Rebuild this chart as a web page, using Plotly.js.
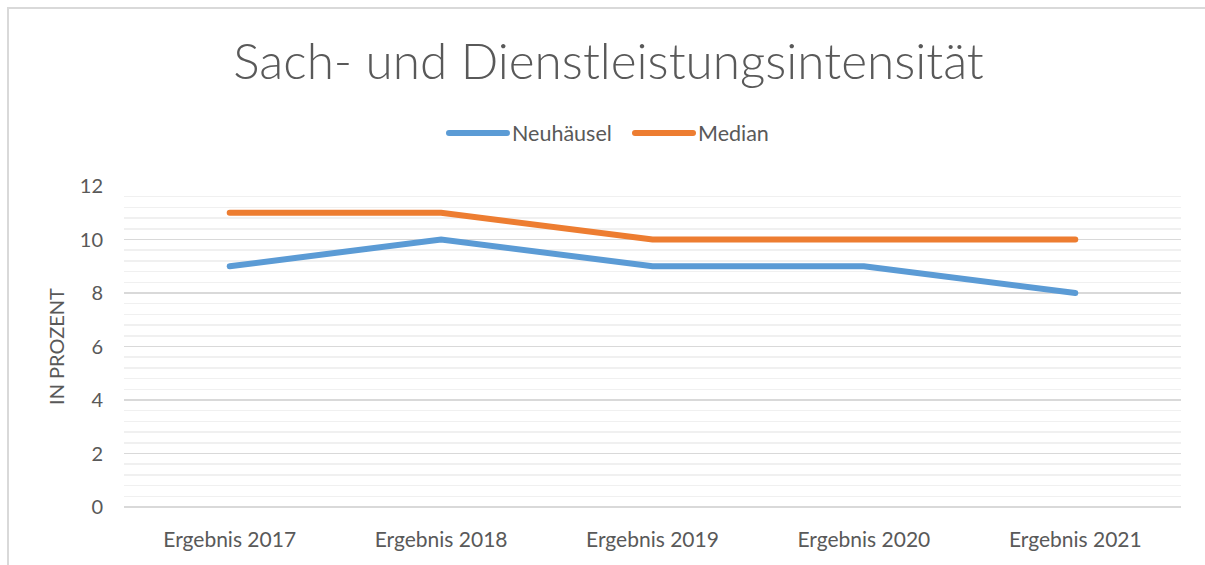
<!DOCTYPE html>
<html>
<head>
<meta charset="utf-8">
<script src="https://cdn.plot.ly/plotly-3.0.1.min.js"></script>
<style>
  html, body { margin: 0; padding: 0; background: #fff; }
  #frame { position: absolute; left: 7px; top: 7px; width: 1300px; height: 700px; border-left: 2px solid #d9d9d9; border-top: 2px solid #d9d9d9; box-sizing: border-box; pointer-events: none; z-index: 5; }
  #chart { position: absolute; left: 0; top: 0; width: 1205px; height: 565px; }
  #chart path.js-line, #chart .legendlines path { stroke-linecap: round; }
</style>
</head>
<body>
<div id="chart"></div>
<div id="frame"></div>
<script>
const categories = ["Ergebnis 2017", "Ergebnis 2018", "Ergebnis 2019", "Ergebnis 2020", "Ergebnis 2021"];
const neuhaeusel = [9, 10, 9, 9, 8];
const median = [11, 11, 10, 10, 10];
const yTickVals = [0, 2, 4, 6, 8, 10, 12];

const font = "Lato, 'Open Sans', 'Liberation Sans', sans-serif";

const traces = [
  { x: categories, y: neuhaeusel, name: "Neuhäusel", type: "scatter", mode: "lines",
    line: { color: "#5B9BD5", width: 6 } },
  { x: categories, y: median, name: "Median", type: "scatter", mode: "lines",
    line: { color: "#ED7D31", width: 6 } }
];

const layout = {
  width: 1205, height: 565,
  margin: { l: 124, r: 24, t: 186, b: 58 },
  paper_bgcolor: "#fff", plot_bgcolor: "#fff",
  font: { family: font, color: "#595959", size: 18 },
  title: { text: "Sach- und Dienstleistungsintensität", x: 0.505, xanchor: "center", y: 0.89, yanchor: "middle",
           font: { family: font, size: 49.5, weight: 300, color: "#595959" } },
  showlegend: true,
  legend: { orientation: "h", x: 444 / 1205, xanchor: "left", xref: "container",
            y: 1 - 133 / 565, yref: "container", yanchor: "middle",
            font: { family: font, size: 21.5, color: "#595959" }, itemwidth: 58,
            entrywidth: 113, entrywidthmode: "pixels", tracegroupgap: 0 },
  xaxis: { type: "category", range: [-0.5, 4.5], showgrid: false, zeroline: false, showline: false,
           ticks: "", ticklabelstandoff: 18, tickfont: { size: 21, color: "#595959" }, fixedrange: true },
  yaxis: { range: [0, 12], tickvals: yTickVals, showgrid: true, gridcolor: "#d9d9d9", gridwidth: 1.5,
           zeroline: true, zerolinecolor: "#d9d9d9", zerolinewidth: 1.5, showline: false, ticks: "", ticklabelstandoff: 20,
           tickfont: { size: 20, color: "#595959" },
           minor: { dtick: 0.4, showgrid: true, gridcolor: "#f0f0f0", gridwidth: 1.5 },
           title: { text: "IN PROZENT", standoff: 9, font: { size: 20, color: "#595959" } } }
};

Plotly.newPlot("chart", traces, layout, { displayModeBar: false, staticPlot: true });
</script>
</body>
</html>
